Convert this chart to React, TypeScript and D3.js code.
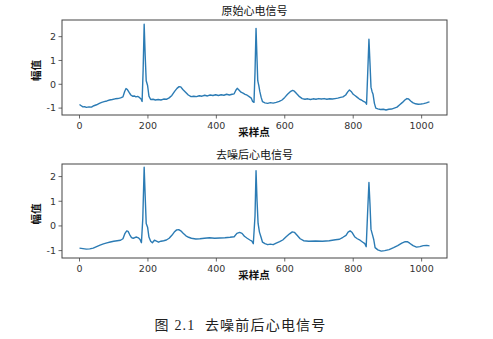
import React from "react";
import * as d3 from "d3";

// Raw ECG
const rawX = [0,5,10,15,20,28,35,42,50,58,65,72,80,88,96,104,112,120,127,132,136,140,145,150,155,160,165,170,175,180,183,186,189,192,195,199,203,208,215,222,230,238,246,254,262,270,278,285,291,296,302,310,318,326,334,342,350,358,366,374,382,390,398,406,414,422,430,438,446,452,457,461,466,472,478,484,490,496,502,506,510,513,516,519,521,524,527,531,535,542,550,558,566,575,584,592,600,608,616,623,628,635,643,651,659,667,675,683,691,699,707,715,723,731,739,747,755,763,770,778,784,789,794,800,806,812,818,824,830,836,839,843,846,849,852,855,858,862,866,872,880,888,896,904,912,920,928,936,944,951,957,962,968,974,982,990,998,1006,1014,1020,1023];
const rawY = [-0.85,-0.9,-0.95,-0.94,-0.97,-0.95,-0.96,-0.9,-0.86,-0.8,-0.76,-0.73,-0.7,-0.66,-0.64,-0.61,-0.6,-0.57,-0.53,-0.3,-0.18,-0.22,-0.34,-0.45,-0.5,-0.49,-0.53,-0.51,-0.55,-0.62,-0.72,0.6,2.52,1.2,0.15,-0.05,-0.5,-0.64,-0.63,-0.66,-0.64,-0.66,-0.62,-0.63,-0.57,-0.47,-0.3,-0.17,-0.1,-0.11,-0.22,-0.33,-0.45,-0.52,-0.5,-0.52,-0.48,-0.5,-0.46,-0.49,-0.45,-0.47,-0.44,-0.47,-0.44,-0.46,-0.42,-0.45,-0.42,-0.4,-0.25,-0.17,-0.24,-0.33,-0.37,-0.42,-0.46,-0.52,-0.58,-0.72,-0.76,0.5,2.35,1.0,0.15,-0.05,-0.3,-0.55,-0.73,-0.78,-0.8,-0.77,-0.79,-0.76,-0.72,-0.66,-0.55,-0.42,-0.31,-0.26,-0.29,-0.4,-0.52,-0.6,-0.63,-0.61,-0.64,-0.61,-0.63,-0.6,-0.62,-0.6,-0.63,-0.61,-0.62,-0.6,-0.58,-0.55,-0.53,-0.45,-0.32,-0.24,-0.3,-0.42,-0.48,-0.55,-0.62,-0.66,-0.72,-0.76,-0.84,0.7,1.89,0.9,-0.12,-0.3,-0.42,-0.8,-1.0,-1.03,-1.06,-1.05,-1.08,-1.05,-1.04,-1.0,-0.96,-0.86,-0.76,-0.66,-0.6,-0.62,-0.7,-0.77,-0.82,-0.84,-0.83,-0.81,-0.78,-0.75,-0.74];

// Denoised ECG
const cleanX = [0,10,20,30,40,50,60,70,80,90,100,110,120,127,133,138,142,147,152,157,162,167,172,177,181,185,189,192,195,199,203,208,213,219,225,231,238,246,254,262,270,277,284,290,296,303,311,319,327,340,352,365,380,395,410,425,440,452,460,468,475,482,490,498,504,508,513,516,519,522,526,530,535,542,550,558,566,575,585,594,604,614,622,628,636,645,655,670,690,710,730,748,760,770,779,785,791,797,805,812,820,828,834,838,842,846,849,852,856,860,864,872,882,892,905,918,930,942,952,958,965,975,985,995,1005,1015,1023];
const cleanY = [-0.9,-0.92,-0.94,-0.93,-0.9,-0.84,-0.78,-0.73,-0.69,-0.65,-0.62,-0.6,-0.58,-0.52,-0.3,-0.2,-0.22,-0.36,-0.47,-0.5,-0.47,-0.45,-0.48,-0.55,-0.68,0.3,2.38,1.2,0.1,-0.05,-0.45,-0.62,-0.68,-0.58,-0.62,-0.66,-0.62,-0.6,-0.57,-0.5,-0.38,-0.25,-0.16,-0.15,-0.2,-0.3,-0.4,-0.46,-0.5,-0.53,-0.52,-0.5,-0.48,-0.5,-0.49,-0.48,-0.46,-0.44,-0.3,-0.26,-0.3,-0.42,-0.5,-0.57,-0.62,-0.72,0.4,2.24,1.0,0.1,-0.25,-0.43,-0.66,-0.72,-0.76,-0.74,-0.76,-0.7,-0.64,-0.57,-0.44,-0.32,-0.24,-0.26,-0.38,-0.52,-0.6,-0.62,-0.61,-0.62,-0.6,-0.56,-0.54,-0.46,-0.38,-0.25,-0.2,-0.27,-0.45,-0.52,-0.58,-0.66,-0.72,-0.84,0.5,1.76,0.9,-0.14,-0.34,-0.55,-0.88,-0.97,-1.02,-1.0,-0.96,-0.88,-0.8,-0.7,-0.64,-0.64,-0.7,-0.8,-0.86,-0.84,-0.8,-0.79,-0.81];

const xTicks = [0, 200, 400, 600, 800, 1000];
const yTicks = [-1, 0, 1, 2];
const titles = ["原始心电信号", "去噪后心电信号"];
const xLabel = "采样点";
const yLabel = "幅值";
const caption = "图 2.1  去噪前后心电信号";

const W = 493;
const H = 339;
const LEFT = 62;
const RIGHT = 447;
const panels = [
  { top: 20, bottom: 115, dom: [-1.29, 2.7], xs: rawX, ys: rawY },
  { top: 164, bottom: 258, dom: [-1.3, 2.51], xs: cleanX, ys: cleanY },
];

const CJK = "'Noto Sans CJK SC', 'DejaVu Sans', sans-serif";
const NUM = "'DejaVu Sans', sans-serif";

function Panel({ p, title }: { p: any; title: string }) {
  const x = d3.scaleLinear().domain([-51.15, 1074.15]).range([LEFT, RIGHT]);
  const y = d3.scaleLinear().domain(p.dom).range([p.bottom, p.top]);
  const pts: [number, number][] = p.xs.map((v: number, i: number) => [v, p.ys[i]]);
  const line = d3
    .line<[number, number]>()
    .x((d) => x(d[0]))
    .y((d) => y(d[1]))
    .curve(d3.curveLinear);
  const midX = (LEFT + RIGHT) / 2;
  const midY = (p.top + p.bottom) / 2;
  return (
    <g>
      <text x={midX} y={p.top - 5} textAnchor="middle" fontSize={11} fontFamily={CJK} fill="#111">
        {title}
      </text>
      <path d={line(pts) || ""} fill="none" stroke="#2b7bb4" strokeWidth={1.4} strokeLinejoin="round" />
      <rect x={LEFT} y={p.top} width={RIGHT - LEFT} height={p.bottom - p.top} fill="none" stroke="#444" strokeWidth={1} />
      {xTicks.map((t) => (
        <g key={"x" + t}>
          <line x1={x(t)} x2={x(t)} y1={p.bottom} y2={p.bottom + 3.5} stroke="#444" strokeWidth={0.8} />
          <text x={x(t)} y={p.bottom + 14} textAnchor="middle" fontSize={9.5} fontFamily={NUM} fill="#333">
            {t}
          </text>
        </g>
      ))}
      {yTicks.map((t) => (
        <g key={"y" + t}>
          <line x1={LEFT - 3.5} x2={LEFT} y1={y(t)} y2={y(t)} stroke="#444" strokeWidth={0.8} />
          <text x={LEFT - 6} y={y(t) + 3.4} textAnchor="end" fontSize={9.5} fontFamily={NUM} fill="#333">
            {t}
          </text>
        </g>
      ))}
      <text x={254} y={p.bottom + 21} textAnchor="middle" fontSize={10.5} fontWeight={600} fontFamily={CJK} fill="#111">
        {xLabel}
      </text>
      <text
        transform={`translate(40, ${midY + 3}) rotate(-90)`}
        textAnchor="middle"
        fontSize={10.5}
        fontWeight={600}
        fontFamily={CJK}
        fill="#111"
      >
        {yLabel}
      </text>
    </g>
  );
}

export default function App() {
  return (
    <svg
      width={W}
      height={H}
      viewBox={`0 0 ${W} ${H}`}
      style={{ position: "absolute", left: 0, top: 0, background: "#fff" }}
    >
      <rect x={0} y={0} width={W} height={H} fill="#fff" />
      {panels.map((p, i) => (
        <Panel key={i} p={p} title={titles[i]} />
      ))}
      <text
        x={240.5}
        y={330}
        textAnchor="middle"
        fontSize={14}
        letterSpacing={1.2}
        fontFamily="'Liberation Serif', 'Noto Sans CJK SC', serif"
        fill="#222"
        style={{ whiteSpace: "pre" }}
      >
        {caption}
      </text>
    </svg>
  );
}
